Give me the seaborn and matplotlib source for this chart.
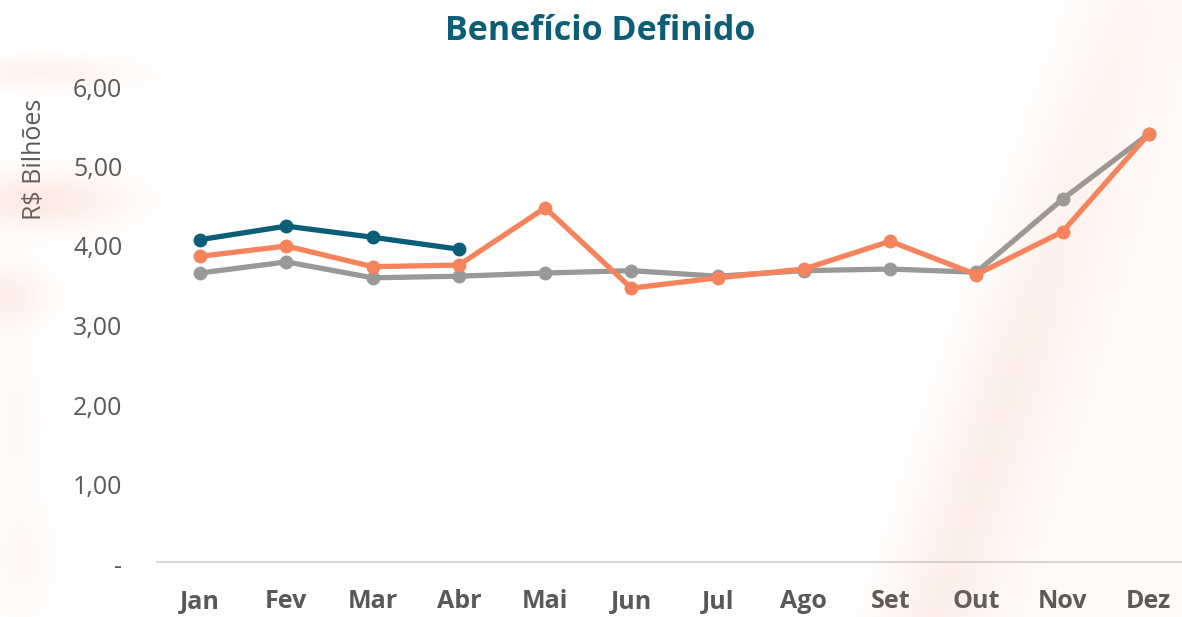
import numpy as np
import pandas as pd
import matplotlib
matplotlib.use("Agg")
import matplotlib.pyplot as plt
import seaborn as sns

# Monthly values, R$ billions
meses = ["Jan", "Fev", "Mar", "Abr", "Mai", "Jun", "Jul", "Ago", "Set", "Out", "Nov", "Dez"]
serie_cinza = [3.66, 3.80, 3.60, 3.62, 3.66, 3.69, 3.62, 3.69, 3.71, 3.67, 4.59, 5.41]
serie_laranja = [3.87, 4.00, 3.74, 3.76, 4.48, 3.47, 3.60, 3.71, 4.06, 3.64, 4.18, 5.41]
serie_azul = [4.08, 4.25, 4.11, 3.96]
y_ticks = [0, 1, 2, 3, 4, 5, 6]
y_tick_labels = ["-", "1,00", "2,00", "3,00", "4,00", "5,00", "6,00"]

sns.set_theme(style="white")
plt.rcParams["font.family"] = ["Open Sans", "DejaVu Sans"]

W, H, DPI = 1182, 617, 100
fig = plt.figure(figsize=(W / DPI, H / DPI), dpi=DPI)

# soft peach backdrop strokes
yy, xx = np.mgrid[0:H, 0:W].astype(float)
a = np.zeros((H, W))
for cx, cy, sx, sy, amp in [(40, 72, 90, 16, 0.10), (40, 200, 80, 28, 0.17),
                            (5, 295, 40, 30, 0.13), (20, 560, 35, 60, 0.05),
                            (15, 420, 25, 80, 0.05)]:
    a += amp * np.exp(-(((xx - cx) / sx) ** 2 + ((yy - cy) / sy) ** 2))
# diagonal band on the right
d = xx - (1090 - 0.32 * yy)
a += 0.09 * np.exp(-((d - 40) / 55) ** 2) * np.clip(yy / H + 0.4, 0, 1)
a += 0.035 * (1 / (1 + np.exp(-d / 20)))
a = np.clip(a, 0, 1)
img = np.zeros((H, W, 4))
img[..., 0] = 0.96
img[..., 1] = 0.52
img[..., 2] = 0.36
img[..., 3] = a
fig.figimage(img[::-1], xo=0, yo=0, zorder=0, origin="lower")

ax = fig.add_axes([157 / W, 53 / H, (1192 - 157) / W, (564 - 87) / H])
ax.patch.set_alpha(0)

df = pd.DataFrame({"mes": np.arange(len(meses))})
df["cinza"] = serie_cinza
df["laranja"] = serie_laranja
df["azul"] = serie_azul + [np.nan] * (len(meses) - len(serie_azul))

for col, color in [("cinza", "#999999"), ("laranja", "#f5845c"), ("azul", "#0b5e78")]:
    sns.lineplot(data=df.dropna(subset=[col]), x="mes", y=col, ax=ax, color=color,
                 linewidth=3.8, marker="o", markersize=10, markeredgewidth=0,
                 solid_capstyle="round", zorder=3)

# spines first: repositioning a spine resets its axis ticks
for s in ["top", "right", "left"]:
    ax.spines[s].set_visible(False)
ax.spines["bottom"].set_color("#d9d9d9")
ax.spines["bottom"].set_linewidth(1.5)
ax.spines["bottom"].set_position(("data", 0.02))

ax.set_xlim(-0.5, len(meses) - 0.5)
ax.set_ylim(0, 6)
ax.set_xticks(range(len(meses)))
ax.set_xticklabels(meses)
ax.set_yticks(y_ticks)
ax.set_yticklabels(y_tick_labels)
ax.tick_params(axis="x", length=0, pad=19.5, labelsize=18, labelcolor="#595959")
ax.tick_params(axis="y", length=0, pad=25, labelsize=18, labelcolor="#595959")
for t in ax.get_xticklabels():
    t.set_fontweight("bold")
ax.set_xlabel("")
ax.set_ylabel("R$ Bilhões", fontsize=18, color="#595959")
ax.yaxis.set_label_coords(-110 / (1192 - 157), (564 - 159) / (564 - 87))

fig.text(600 / W, 1 - 31 / H, "Benefício Definido", ha="center", va="center",
         fontsize=24.5, fontweight="bold", color="#0b5e75")

fig.savefig("out.png", dpi=DPI)
